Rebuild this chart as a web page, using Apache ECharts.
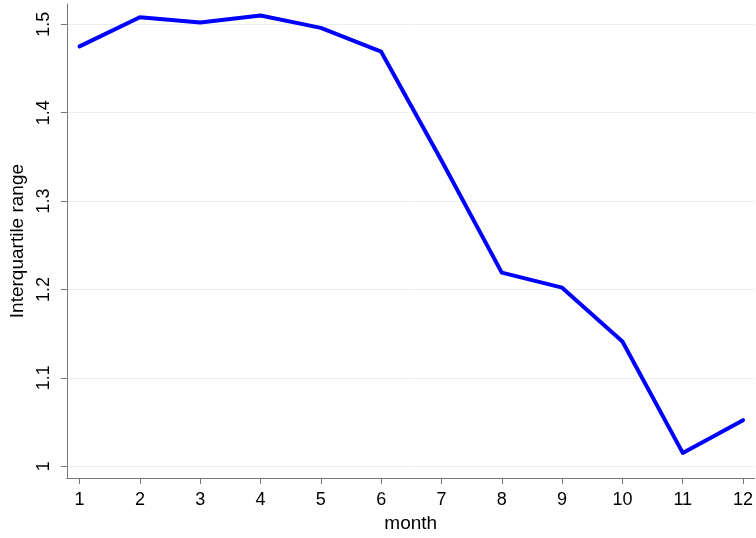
<!DOCTYPE html>
<html lang="en">
<head>
    <meta charset="UTF-8">
    <title>Interquartile range by month</title>
    <style>
        html, body { margin: 0; padding: 0; background: #fff; }
        #main { width: 756px; height: 538px; }
    </style>
</head>
<body>
<div id="main"></div>
<script src="https://cdn.jsdelivr.net/npm/echarts@6/dist/echarts.min.js"></script>
<script>
    // values
    const months = [1, 2, 3, 4, 5, 6, 7, 8, 9, 10, 11, 12];
    const iqr = [1.475, 1.508, 1.502, 1.510, 1.496, 1.469, 1.346, 1.219, 1.202, 1.141, 1.015, 1.052];
    const yTicks = [1, 1.1, 1.2, 1.3, 1.4, 1.5];

    const dom = document.getElementById('main');
    const myChart = echarts.init(dom, null, {renderer: 'canvas'});

    const axisColor = '#777777';
    const font = 'Liberation Sans, Arial, sans-serif';

    const option = {
        animation: false,
        grid: {left: 63, right: 0, top: 4, bottom: 58},
        xAxis: {
            type: 'value',
            min: 0.79,
            max: 12.19,
            name: 'month',
            nameLocation: 'middle',
            nameGap: 35,
            nameTextStyle: {color: '#000', fontSize: 19, fontFamily: font},
            axisLine: {show: true, onZero: false, lineStyle: {color: axisColor, width: 1}},
            axisTick: {show: true, length: 6, customValues: months, lineStyle: {color: axisColor}},
            axisLabel: {customValues: months, color: '#000', fontSize: 18, fontFamily: font, margin: 13},
            splitLine: {show: false}
        },
        yAxis: {
            type: 'value',
            min: 0.9865,
            max: 1.523,
            name: 'Interquartile range',
            nameLocation: 'middle',
            nameRotate: 90,
            nameGap: 36,
            nameTextStyle: {color: '#000', fontSize: 19, fontFamily: font},
            axisLine: {show: true, lineStyle: {color: axisColor, width: 1}},
            axisTick: {show: true, length: 6, customValues: yTicks, lineStyle: {color: axisColor}},
            axisLabel: {
                customValues: yTicks,
                rotate: 90,
                color: '#000',
                fontSize: 18,
                fontFamily: font,
                margin: 14
            },
            splitLine: {show: true, lineStyle: {color: '#e8f0f2', width: 1}}
        },
        series: [{
            type: 'line',
            data: months.map((m, i) => [m, iqr[i]]),
            symbol: 'none',
            lineStyle: {color: '#0000ff', width: 4, cap: 'round', join: 'round'}
        }]
    };

    myChart.setOption(option);
</script>
</body>
</html>
